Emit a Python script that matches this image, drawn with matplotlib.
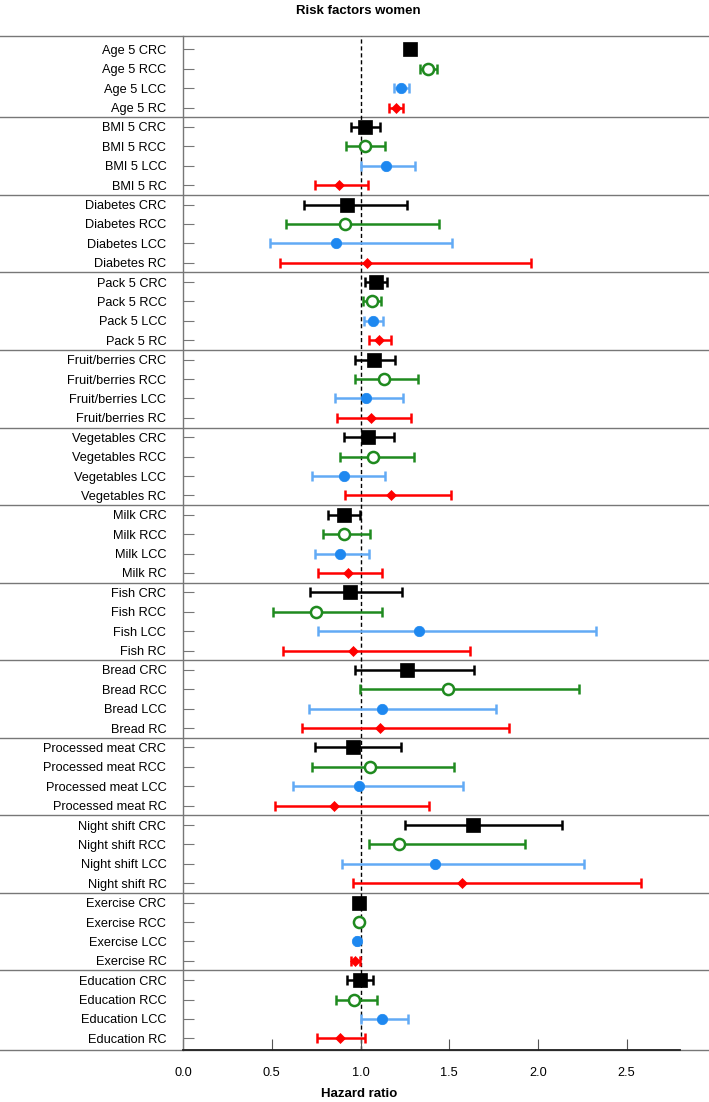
import numpy as np
import matplotlib.pyplot as plt

plt.rcParams['font.family'] = ['Liberation Sans', 'DejaVu Sans']

factors = ['Age 5', 'BMI 5', 'Diabetes', 'Pack 5', 'Fruit/berries', 'Vegetables',
           'Milk', 'Fish', 'Bread', 'Processed meat', 'Night shift', 'Exercise',
           'Education']
sites = ['CRC', 'RCC', 'LCC', 'RC']

# hazard ratios and 95% CI per site, one value per factor
crc_hr = [1.28, 1.027, 0.926, 1.089, 1.076, 1.040, 0.905, 0.941, 1.261, 0.956, 1.634, 0.994, 0.998]
crc_lo = [1.255, 0.949, 0.680, 1.025, 0.968, 0.905, 0.818, 0.714, 0.968, 0.746, 1.252, 0.985, 0.924]
crc_hi = [1.305, 1.108, 1.263, 1.152, 1.195, 1.189, 0.998, 1.235, 1.638, 1.229, 2.133, 1.003, 1.072]

rcc_hr = [1.381, 1.025, 0.915, 1.064, 1.134, 1.072, 0.907, 0.750, 1.492, 1.053, 1.216, 0.992, 0.966]
rcc_lo = [1.337, 0.920, 0.580, 1.015, 0.970, 0.886, 0.788, 0.506, 0.998, 0.729, 1.049, 0.984, 0.862]
rcc_hi = [1.432, 1.140, 1.441, 1.117, 1.324, 1.301, 1.053, 1.119, 2.233, 1.527, 1.924, 1.000, 1.093]

lcc_hr = [1.227, 1.146, 0.862, 1.068, 1.032, 0.909, 0.883, 1.330, 1.119, 0.989, 1.422, 0.979, 1.123]
lcc_lo = [1.186, 1.002, 0.492, 1.019, 0.858, 0.727, 0.741, 0.759, 0.708, 0.621, 0.894, 0.972, 1.000]
lcc_hi = [1.275, 1.307, 1.513, 1.125, 1.241, 1.140, 1.049, 2.328, 1.763, 1.578, 2.259, 0.987, 1.267]

rc_hr = [1.199, 0.879, 1.038, 1.106, 1.057, 1.170, 0.928, 0.955, 1.108, 0.848, 1.574, 0.970, 0.884]
rc_lo = [1.159, 0.741, 0.547, 1.049, 0.869, 0.913, 0.763, 0.563, 0.670, 0.521, 0.960, 0.947, 0.756]
rc_hi = [1.242, 1.040, 1.958, 1.170, 1.282, 1.508, 1.121, 1.617, 1.837, 1.384, 2.581, 0.996, 1.025]

series = [
    (crc_hr, crc_lo, crc_hi, 'black', 'black', 's', 9.5, 'black'),
    (rcc_hr, rcc_lo, rcc_hi, '#1f8a1f', '#1f8a1f', 'o', 8.0, 'white'),
    (lcc_hr, lcc_lo, lcc_hi, '#62aaf5', '#1e88f0', 'o', 7.5, '#1e88f0'),
    (rc_hr, rc_lo, rc_hi, '#ff0000', '#ff0000', 'D', 5.0, '#ff0000'),
]

W, H = 709, 1102
fig = plt.figure(figsize=(W / 100, H / 100), dpi=100)
left, right, top, bottom = 183, 680, 36, 1050
ax = fig.add_axes([left / W, 1 - bottom / H, (right - left) / W, (bottom - top) / H])

n = len(factors)
ax.axvline(1.0, color='black', ls=(0, (3, 2)), lw=1.0, zorder=1)

for k, (hr, lo, hi, lc, mc, mk, ms, fc) in enumerate(series):
    y = np.arange(n) * 4 + k
    hr = np.array(hr)
    err = np.vstack([hr - np.array(lo), np.array(hi) - hr])
    ax.errorbar(hr, y, xerr=err, fmt='none', ecolor=lc, elinewidth=1.8,
                capsize=3.6, capthick=1.8, zorder=2)
    ax.plot(hr, y, ls='none', marker=mk, ms=ms, mfc=fc, mec=mc,
            mew=1.8 if fc == 'white' else 0.5, zorder=3)

labels = [f'{f} {s}' for f in factors for s in sites]
ax.set_yticks(np.arange(len(labels)))
ax.set_yticklabels(labels, fontsize=9.2)
ax.set_ylim(51.6, -0.69)
ax.set_xlim(0, 2.8)
ax.set_xticks([0.0, 0.5, 1.0, 1.5, 2.0, 2.5])
ax.set_xticklabels(['0.0', '0.5', '1.0', '1.5', '2.0', '2.5'], fontsize=9.2)

ax.tick_params(axis='y', direction='in', length=8, color='#777777', pad=12)
ax.tick_params(axis='x', direction='in', length=8, color='#555555', pad=12)

for s in ['top', 'right']:
    ax.spines[s].set_visible(False)
ax.spines['left'].set_color('#777777')
ax.spines['left'].set_linewidth(1.0)
ax.spines['bottom'].set_color('#222222')
ax.spines['bottom'].set_linewidth(1.3)

# group separators run across the whole figure width
trans = ax.get_yaxis_transform()
x0 = -left / (right - left)
x1 = (W - left) / (right - left)
for yy in [-0.69] + [4 * g - 0.5 for g in range(1, n)] + [51.6]:
    ax.plot([x0, x1], [yy, yy], transform=trans, color='#777777', lw=1.0,
            clip_on=False, zorder=0)

fig.text(358 / W, 1 - 11 / H, 'Risk factors women', ha='center', va='center',
         fontsize=9.5, fontweight='bold')
fig.text(359 / W, 1 - 1094 / H, 'Hazard ratio', ha='center', va='center',
         fontsize=9.5, fontweight='bold')

fig.savefig('out.png', dpi=100)
